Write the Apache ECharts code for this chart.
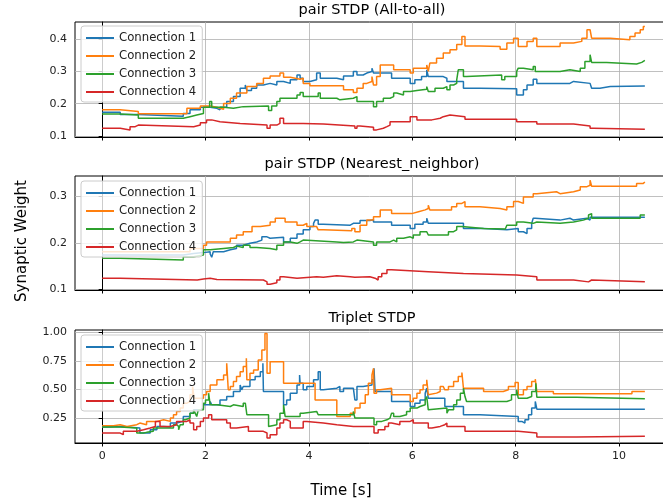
<!DOCTYPE html>
<html><head><meta charset="utf-8">
<script src="https://cdn.jsdelivr.net/npm/echarts@6/dist/echarts.min.js"></script>
<style>html,body{margin:0;padding:0;background:#fff}#c{width:663px;height:504px}</style>
</head><body><div id="c"></div>
<script>
const NAMES = ['Connection 1','Connection 2','Connection 3','Connection 4'];
const COLORS = ['#1f77b4','#ff7f0e','#2ca02c','#d62728'];
const TITLES = ['pair STDP (All-to-all)','pair STDP (Nearest_neighbor)','Triplet STDP'];
const X_TICKS = [0,2,4,6,8,10];
const Y_TICKS_A2A = [0.1,0.2,0.3,0.4];
const Y_TICKS_NN = [0.1,0.2,0.3];
const Y_TICKS_TR = [0.25,0.5,0.75,1.0];

// pair STDP (All-to-all): [time, weight] step points
const A2A_C1 = [[0,0.174],[0.35,0.167],[0.70,0.161],[1.57,0.170],[1.70,0.181],[1.90,0.189],[2.09,0.186],[2.22,0.181],[2.28,0.189],[2.41,0.207],[2.54,0.222],[2.67,0.248],[2.77,0.258],[2.80,0.241],[2.89,0.248],[2.99,0.258],[3.12,0.263],[3.25,0.258],[3.38,0.269],[3.51,0.263],[3.64,0.274],[3.77,0.289],[3.83,0.279],[3.89,0.269],[4.02,0.274],[4.15,0.295],[4.22,0.279],[4.54,0.284],[4.57,0.274],[4.67,0.286],[4.86,0.300],[4.93,0.289],[5.05,0.295],[5.12,0.300],[5.22,0.310],[5.25,0.295],[5.60,0.279],[5.96,0.263],[6.05,0.274],[6.18,0.284],[6.28,0.305],[6.31,0.284],[6.60,0.279],[6.67,0.269],[6.99,0.248],[7.31,0.246],[8.02,0.227],[8.15,0.243],[8.22,0.258],[8.34,0.276],[8.41,0.263],[9.05,0.269],[9.12,0.263],[9.44,0.269],[9.47,0.248],[9.63,0.253],[9.83,0.255],[10.5,0.255]];
const A2A_C2 = [[0,0.181],[0.35,0.176],[0.70,0.169],[1.64,0.186],[1.90,0.193],[2.09,0.189],[2.22,0.183],[2.35,0.201],[2.48,0.217],[2.60,0.233],[2.80,0.253],[2.99,0.263],[3.12,0.279],[3.25,0.286],[3.44,0.295],[3.51,0.282],[3.64,0.276],[3.83,0.279],[3.89,0.263],[4.02,0.256],[4.67,0.243],[4.86,0.235],[4.93,0.248],[5.05,0.263],[5.12,0.269],[5.22,0.284],[5.25,0.258],[5.31,0.284],[5.38,0.320],[5.64,0.305],[5.96,0.295],[6.02,0.310],[6.28,0.320],[6.31,0.300],[6.34,0.326],[6.47,0.341],[6.60,0.357],[6.73,0.367],[6.86,0.383],[6.96,0.408],[7.02,0.379],[7.31,0.377],[7.70,0.369],[7.83,0.388],[7.96,0.403],[8.05,0.377],[8.22,0.393],[8.34,0.403],[8.41,0.377],[8.86,0.388],[9.12,0.393],[9.28,0.403],[9.38,0.429],[9.44,0.434],[9.47,0.403],[9.83,0.398],[10.21,0.408],[10.31,0.419],[10.41,0.429],[10.47,0.439],[10.5,0.439]];
const A2A_C3 = [[0,0.168],[0.35,0.165],[0.70,0.155],[1.57,0.160],[1.70,0.165],[1.83,0.170],[1.96,0.189],[2.08,0.207],[2.12,0.189],[2.35,0.186],[2.54,0.191],[2.73,0.193],[3.22,0.179],[3.28,0.193],[3.38,0.207],[3.44,0.217],[3.77,0.227],[3.83,0.235],[3.89,0.222],[4.18,0.233],[4.22,0.217],[4.54,0.212],[4.60,0.217],[4.86,0.222],[4.93,0.207],[5.25,0.191],[5.31,0.207],[5.44,0.217],[5.57,0.222],[5.64,0.233],[5.70,0.227],[5.83,0.238],[5.96,0.241],[6.09,0.245],[6.28,0.253],[6.31,0.238],[6.44,0.248],[6.60,0.253],[6.67,0.243],[6.73,0.258],[6.80,0.263],[6.86,0.274],[6.89,0.305],[6.99,0.284],[7.05,0.289],[7.73,0.274],[7.79,0.284],[8.02,0.300],[8.05,0.310],[8.15,0.305],[8.34,0.315],[8.38,0.300],[8.86,0.305],[9.05,0.310],[9.08,0.300],[9.25,0.310],[9.34,0.331],[9.44,0.352],[9.47,0.328],[9.76,0.323],[10.34,0.328],[10.44,0.334],[10.5,0.334]];
const A2A_C4 = [[0,0.124],[0.35,0.119],[0.54,0.129],[0.64,0.134],[0.70,0.129],[1.77,0.134],[1.90,0.141],[2.02,0.150],[2.12,0.144],[2.28,0.139],[2.67,0.134],[3.19,0.124],[3.25,0.134],[3.38,0.139],[3.44,0.155],[3.51,0.139],[3.89,0.137],[4.28,0.131],[4.89,0.124],[4.93,0.131],[4.99,0.127],[5.25,0.119],[5.31,0.124],[5.44,0.129],[5.51,0.134],[5.57,0.144],[5.96,0.160],[6.09,0.150],[6.38,0.155],[6.54,0.160],[6.60,0.165],[6.73,0.160],[7.02,0.152],[8.02,0.144],[8.41,0.137],[9.12,0.131],[9.44,0.124],[9.50,0.121],[10.5,0.121]];

// pair STDP (Nearest_neighbor)
const NN_C1 = [[0,0.174],[1.57,0.177],[1.77,0.179],[1.96,0.181],[2.09,0.176],[2.12,0.169],[2.15,0.181],[2.35,0.185],[2.48,0.188],[2.60,0.195],[2.73,0.199],[2.86,0.202],[2.99,0.206],[3.09,0.213],[3.19,0.210],[3.25,0.212],[3.51,0.202],[3.64,0.210],[3.77,0.219],[3.89,0.228],[4.02,0.235],[4.09,0.242],[4.12,0.249],[4.18,0.240],[4.28,0.238],[4.80,0.242],[4.86,0.245],[4.89,0.242],[4.99,0.248],[5.18,0.250],[5.25,0.245],[5.60,0.238],[5.96,0.231],[6.05,0.240],[6.21,0.245],[6.28,0.253],[6.31,0.242],[6.99,0.231],[7.38,0.228],[7.83,0.231],[8.05,0.224],[8.15,0.220],[8.22,0.231],[8.31,0.242],[8.34,0.253],[8.38,0.249],[8.86,0.253],[9.05,0.249],[9.12,0.253],[9.38,0.249],[9.44,0.255],[10.5,0.255]];
const NN_C2 = [[0,0.181],[1.70,0.188],[1.96,0.195],[2.02,0.202],[2.48,0.210],[2.60,0.217],[2.73,0.224],[2.90,0.235],[3.06,0.238],[3.25,0.245],[3.35,0.253],[3.54,0.245],[3.77,0.238],[3.89,0.242],[3.96,0.235],[4.15,0.238],[4.18,0.228],[4.28,0.226],[4.83,0.231],[4.89,0.224],[4.99,0.238],[5.12,0.249],[5.25,0.256],[5.38,0.271],[5.60,0.263],[5.99,0.267],[6.12,0.271],[6.25,0.274],[6.31,0.281],[6.34,0.271],[6.76,0.278],[6.86,0.285],[6.96,0.289],[7.02,0.278],[7.31,0.274],[7.70,0.271],[7.83,0.278],[7.96,0.289],[8.05,0.285],[8.15,0.299],[8.34,0.306],[8.41,0.310],[8.79,0.306],[8.86,0.310],[9.12,0.314],[9.25,0.321],[9.38,0.324],[9.44,0.335],[9.47,0.322],[10.34,0.328],[10.47,0.331],[10.5,0.331]];
const NN_C3 = [[0,0.167],[0.35,0.163],[1.57,0.170],[1.77,0.174],[1.96,0.185],[2.09,0.188],[2.35,0.190],[2.54,0.193],[2.60,0.190],[2.73,0.195],[2.86,0.190],[2.99,0.188],[3.25,0.185],[3.38,0.195],[3.51,0.202],[3.64,0.199],[3.77,0.202],[3.83,0.206],[3.89,0.202],[4.54,0.201],[4.67,0.202],[4.86,0.206],[4.93,0.202],[5.25,0.195],[5.31,0.202],[5.57,0.206],[5.64,0.202],[5.70,0.210],[5.83,0.213],[5.96,0.210],[6.02,0.217],[6.15,0.224],[6.28,0.228],[6.31,0.217],[6.70,0.224],[6.80,0.228],[6.86,0.235],[6.96,0.238],[6.99,0.231],[7.38,0.230],[7.80,0.226],[7.83,0.238],[8.02,0.245],[8.15,0.242],[8.34,0.245],[8.41,0.242],[8.86,0.245],[9.12,0.249],[9.31,0.253],[9.41,0.260],[9.44,0.263],[9.47,0.253],[10.41,0.260],[10.5,0.260]];
const NN_C4 = [[0,0.124],[0.35,0.120],[1.84,0.122],[1.96,0.124],[2.09,0.121],[2.22,0.120],[3.12,0.116],[3.19,0.111],[3.25,0.114],[3.38,0.120],[3.44,0.127],[3.51,0.124],[3.77,0.127],[4.15,0.126],[4.28,0.129],[4.54,0.127],[4.80,0.126],[4.89,0.127],[5.18,0.124],[5.28,0.120],[5.34,0.127],[5.41,0.134],[5.51,0.142],[5.60,0.138],[6.31,0.134],[6.99,0.131],[8.02,0.127],[8.41,0.120],[9.12,0.116],[9.41,0.120],[9.47,0.116],[10.5,0.116]];

// Triplet STDP
const TR_C1 = [[0,0.171],[0.16,0.177],[0.35,0.163],[0.73,0.119],[0.93,0.148],[1.06,0.177],[1.19,0.171],[1.32,0.206],[1.44,0.221],[1.57,0.264],[1.70,0.293],[1.77,0.322],[1.90,0.337],[1.96,0.366],[2.09,0.395],[2.12,0.366],[2.28,0.409],[2.41,0.438],[2.54,0.482],[2.67,0.540],[2.70,0.497],[2.73,0.526],[2.86,0.584],[2.96,0.613],[3.06,0.656],[3.11,0.729],[3.12,0.482],[3.51,0.366],[3.57,0.409],[3.64,0.468],[3.77,0.540],[3.82,0.627],[3.83,0.555],[3.89,0.497],[3.96,0.526],[4.09,0.584],[4.18,0.656],[4.22,0.497],[4.28,0.511],[4.54,0.526],[4.60,0.482],[4.67,0.511],[4.86,0.526],[4.89,0.409],[4.93,0.526],[5.05,0.540],[5.22,0.584],[5.26,0.685],[5.28,0.482],[5.60,0.395],[5.96,0.351],[6.05,0.380],[6.15,0.409],[6.25,0.468],[6.28,0.511],[6.31,0.424],[6.63,0.351],[6.99,0.279],[7.31,0.264],[8.05,0.221],[8.12,0.206],[8.18,0.235],[8.25,0.279],[8.31,0.337],[8.38,0.395],[8.41,0.328],[10.5,0.328]];
const TR_C2 = [[0,0.183],[0.22,0.192],[0.35,0.177],[0.48,0.192],[0.67,0.206],[0.73,0.192],[0.86,0.221],[1.06,0.235],[1.19,0.221],[1.32,0.250],[1.38,0.279],[1.44,0.308],[1.51,0.337],[1.57,0.380],[1.64,0.395],[1.70,0.453],[1.75,0.526],[1.78,0.424],[1.96,0.453],[2.02,0.482],[2.09,0.540],[2.22,0.584],[2.35,0.627],[2.41,0.729],[2.44,0.497],[2.48,0.526],[2.54,0.569],[2.60,0.613],[2.67,0.656],[2.73,0.700],[2.79,0.772],[2.80,0.584],[2.86,0.642],[2.93,0.670],[3.02,0.758],[3.09,0.845],[3.15,0.990],[3.19,0.642],[3.25,0.743],[3.51,0.555],[4.12,0.409],[4.54,0.264],[4.80,0.293],[4.89,0.337],[4.99,0.380],[5.09,0.453],[5.15,0.555],[5.22,0.627],[5.25,0.685],[5.26,0.468],[5.31,0.497],[5.38,0.511],[5.60,0.453],[5.96,0.395],[6.02,0.424],[6.09,0.468],[6.15,0.497],[6.21,0.540],[6.28,0.584],[6.31,0.453],[6.34,0.468],[6.47,0.482],[6.54,0.526],[6.60,0.540],[6.63,0.497],[6.70,0.526],[6.80,0.569],[6.89,0.613],[6.96,0.648],[6.99,0.511],[7.38,0.482],[7.76,0.497],[7.86,0.526],[7.99,0.560],[8.05,0.453],[8.15,0.497],[8.22,0.526],[8.31,0.569],[8.38,0.590],[8.41,0.482],[8.73,0.462],[10.25,0.482],[10.5,0.482]];
const TR_C3 = [[0,0.171],[0.35,0.163],[0.67,0.119],[0.80,0.125],[0.86,0.134],[0.99,0.163],[1.38,0.192],[1.44,0.177],[1.48,0.148],[1.51,0.192],[1.57,0.235],[1.61,0.250],[1.70,0.293],[1.77,0.322],[1.80,0.293],[1.83,0.264],[1.86,0.322],[1.96,0.380],[2.00,0.409],[2.06,0.468],[2.09,0.366],[2.22,0.351],[2.48,0.366],[2.54,0.351],[2.73,0.380],[2.77,0.395],[2.80,0.279],[3.22,0.177],[3.25,0.192],[3.38,0.235],[3.44,0.293],[3.51,0.366],[3.54,0.264],[3.83,0.293],[3.89,0.308],[4.15,0.322],[4.18,0.279],[4.86,0.308],[4.89,0.250],[5.26,0.192],[5.31,0.221],[5.41,0.235],[5.51,0.250],[5.57,0.264],[5.60,0.293],[5.64,0.264],[5.76,0.279],[5.89,0.308],[5.96,0.337],[6.09,0.351],[6.15,0.366],[6.25,0.409],[6.28,0.438],[6.31,0.322],[6.34,0.337],[6.67,0.293],[6.70,0.322],[6.80,0.366],[6.86,0.409],[6.93,0.468],[6.99,0.511],[7.02,0.438],[7.05,0.395],[7.83,0.409],[7.92,0.453],[8.02,0.497],[8.05,0.424],[8.22,0.438],[8.31,0.482],[8.39,0.555],[8.41,0.433],[9.18,0.418],[10.5,0.418]];
const TR_C4 = [[0,0.119],[0.35,0.105],[0.41,0.134],[0.67,0.148],[0.80,0.163],[0.93,0.177],[1.03,0.221],[1.12,0.177],[1.32,0.192],[1.44,0.221],[1.64,0.235],[1.70,0.206],[1.77,0.148],[1.83,0.177],[1.90,0.221],[1.96,0.250],[2.06,0.279],[2.12,0.235],[2.41,0.206],[2.48,0.163],[2.60,0.177],[2.83,0.134],[3.12,0.119],[3.19,0.076],[3.25,0.105],[3.38,0.163],[3.44,0.206],[3.51,0.235],[3.57,0.221],[3.64,0.163],[3.89,0.221],[3.96,0.206],[4.28,0.192],[4.54,0.177],[4.86,0.163],[4.89,0.177],[5.26,0.119],[5.34,0.148],[5.47,0.177],[5.54,0.206],[5.60,0.192],[5.76,0.221],[5.96,0.235],[6.02,0.206],[6.31,0.163],[6.38,0.177],[6.54,0.192],[6.63,0.206],[6.67,0.177],[7.02,0.134],[8.05,0.119],[8.41,0.084],[9.18,0.090],[10.5,0.090]];

const PANEL_DATA = [[A2A_C1,A2A_C2,A2A_C3,A2A_C4],[NN_C1,NN_C2,NN_C3,NN_C4],[TR_C1,TR_C2,TR_C3,TR_C4]];
const Y_TICKS = [Y_TICKS_A2A, Y_TICKS_NN, Y_TICKS_TR];
const Y_RANGE = [[0.097,0.453],[0.0985,0.344],[0.032,1.02]];
const Y_DEC = [1,1,2];

const FONT = 'DejaVu Sans';
const GRID_TOP = [22,176,330];
const GRID_H = [115,114,113];
const LEGEND_TOP = [26,181,335];
const TITLE_Y = [10,164,318];

const chart = echarts.init(document.getElementById('c'), null, {renderer:'canvas'});
const grids = [], xAxes = [], yAxes = [], series = [], legends = [], graphics = [];
for (let p = 0; p < 3; p++) {
  grids.push({left:75, right:-9, top:GRID_TOP[p], height:GRID_H[p], show:true, borderColor:'#000', borderWidth:1, backgroundColor:'transparent', containLabel:false, outerBoundsMode:'none'});
  xAxes.push({type:'value', gridIndex:p, min:-0.525, max:11.025,
    axisLine:{show:true, lineStyle:{color:'#000', width:1}},
    axisTick:{show:true, length:3.5, lineStyle:{color:'#000', width:1}, customValues:X_TICKS},
    axisLabel:{show:p===2, customValues:X_TICKS, margin:8, fontSize:11, fontFamily:FONT, color:'#222'},
    splitLine:{show:true, lineStyle:{color:'#b0b0b0', width:0.8}}});
  yAxes.push({type:'value', gridIndex:p, min:Y_RANGE[p][0], max:Y_RANGE[p][1],
    axisLine:{show:true, lineStyle:{color:'#000', width:1}},
    axisTick:{show:true, length:3.5, lineStyle:{color:'#000', width:1}, customValues:Y_TICKS[p]},
    axisLabel:{customValues:Y_TICKS[p], margin:8, fontSize:11, fontFamily:FONT, color:'#222', formatter:(v)=>Number(v).toFixed(Y_DEC[p])},
    splitLine:{show:true, lineStyle:{color:'#b0b0b0', width:0.8}}});
  for (let k = 0; k < 4; k++) {
    series.push({type:'line', name:NAMES[k], xAxisIndex:p, yAxisIndex:p, data:PANEL_DATA[p][k], step:'end',
      showSymbol:false, symbol:'none', lineStyle:{width:1.5, color:COLORS[k]}, itemStyle:{color:COLORS[k]}, animation:false, clip:true});
  }
  legends.push({orient:'vertical', left:81, top:LEGEND_TOP[p], icon:'rect', itemWidth:28, itemHeight:2, itemGap:2,
    padding:[4,6,2,5], backgroundColor:'rgba(255,255,255,0.8)', borderColor:'#cccccc', borderWidth:1, borderRadius:3,
    textStyle:{fontSize:11.7, fontFamily:FONT, color:'#222', lineHeight:16}, data:NAMES, selectedMode:false});
  graphics.push({type:'text', x:372, y:TITLE_Y[p], style:{text:TITLES[p], font:'14.5px "DejaVu Sans"', fill:'#000', align:'center', verticalAlign:'middle'}});
}
graphics.push({type:'text', x:341, y:491, style:{text:'Time [s]', font:'15px "DejaVu Sans"', fill:'#000', align:'center', verticalAlign:'middle'}});
graphics.push({type:'text', x:22, y:241, rotation:Math.PI/2, style:{text:'Synaptic Weight', font:'15px "DejaVu Sans"', fill:'#000', align:'center', verticalAlign:'middle'}});

chart.setOption({animation:false, backgroundColor:'#fff', grid:grids, xAxis:xAxes, yAxis:yAxes, series:series, legend:legends, graphic:graphics});
</script></body></html>
